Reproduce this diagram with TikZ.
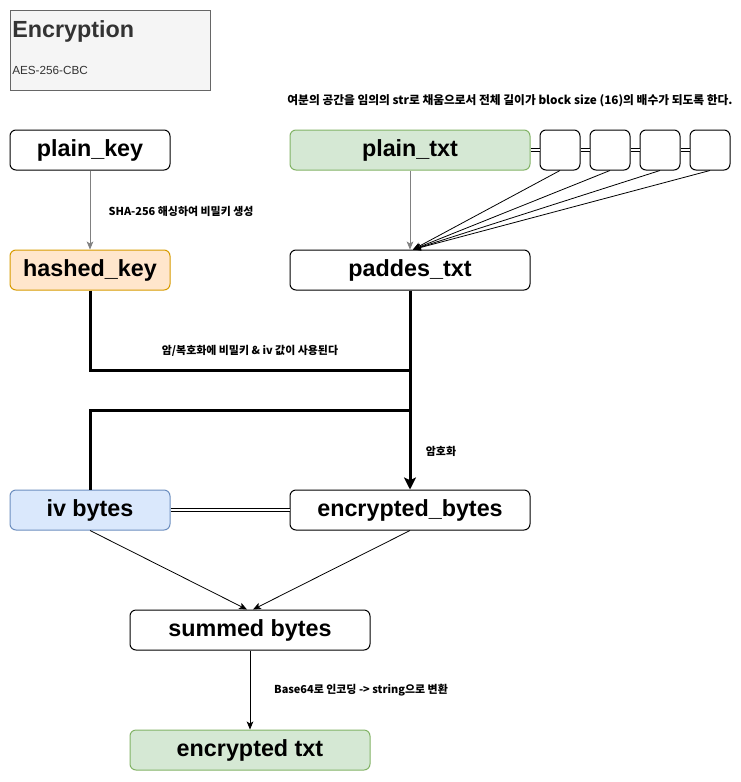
\documentclass[tikz,border=0pt]{standalone}
\usepackage{fontspec}
\setmainfont{Liberation Sans}
\newfontfamily\krfont{Noto Sans CJK KR}
\usetikzlibrary{arrows.meta}
\definecolor{titlefill}{HTML}{F5F5F5}
\definecolor{titledraw}{HTML}{666666}
\definecolor{titletext}{HTML}{333333}
\definecolor{greenfill}{HTML}{D5E8D4}
\definecolor{greendraw}{HTML}{82B366}
\definecolor{orangefill}{HTML}{FFE6CC}
\definecolor{orangedraw}{HTML}{D79B00}
\definecolor{bluefill}{HTML}{DAE8FC}
\definecolor{bluedraw}{HTML}{6C8EBF}
\definecolor{linegray}{HTML}{808080}

\begin{document}
\begin{tikzpicture}[x = 0.75pt, y = -0.75pt,
  box/.style = {rectangle, rounded corners = 4.5pt, line width = 0.75pt, draw = black, fill = white, inner sep = 0pt, minimum width = 120pt, minimum height = 30pt, font = \fontsize{17.5}{20}\selectfont\bfseries},
  widebox/.style = {box, minimum width = 180pt},
  padbox/.style = {box, minimum width = 30pt},
  note/.style = {inner sep = 0pt, font = \krfont\fontsize{8.2}{10}\selectfont\bfseries},
  thin/.style = {line width = 0.6pt, -{Stealth[length = 6pt, width = 5pt, inset = 1.5pt]}},
  grayline/.style = {thin, draw = linegray},
  thick/.style = {line width = 2.25pt},
  doubleline/.style = {double, line width = 0.6pt, double distance = 1.8pt}]

\useasboundingbox (0, 0) rectangle (741, 782);

\node[rectangle, line width = 0.75pt, draw = titledraw, fill = titlefill, minimum width = 150pt, minimum height = 60pt, inner sep = 0pt] (titlebox) at (110, 50) {};
\node[anchor = west, inner sep = 0pt, text = titletext, font = \fontsize{17.5}{20}\selectfont\bfseries] (titlename) at (12, 31) {Encryption};
\node[anchor = west, inner sep = 0pt, text = titletext, font = \fontsize{8.8}{10}\selectfont] (titlesub) at (12, 70) {AES-256-CBC};

\node[note, font = \krfont\fontsize{8.8}{10}\selectfont\bfseries] (padnote) at (510, 101) {여분의 공간을 임의의 str로 채움으로서 전체 길이가 block size (16)의 배수가 되도록 한다.};

\node[box] (plainkey) at (90, 150) {plain\_key};
\node[widebox, fill = greenfill, draw = greendraw] (plaintxt) at (410, 150) {plain\_txt};
\node[padbox] (pad1) at (560, 150) {};
\node[padbox] (pad2) at (610, 150) {};
\node[padbox] (pad3) at (660, 150) {};
\node[padbox] (pad4) at (710, 150) {};

\node[box, fill = orangefill, draw = orangedraw] (hashedkey) at (90, 270) {hashed\_key};
\node[widebox] (paddestxt) at (410, 270) {paddes\_txt};

\node[box, fill = bluefill, draw = bluedraw] (ivbytes) at (90, 510) {iv bytes};
\node[widebox] (encbytes) at (410, 510) {encrypted\_bytes};

\node[widebox] (summed) at (250, 630) {summed bytes};
\node[widebox, fill = greenfill, draw = greendraw] (enctxt) at (250, 750) {encrypted txt};

\coordinate (keyjoin) at (410, 370);
\coordinate (ivjoin) at (410, 410);

\draw[grayline] (plainkey) -- (hashedkey);
\node[note] (hashnote) at (181, 211) {SHA-256 해싱하여 비밀키 생성};

\draw[grayline] (plaintxt) -- (paddestxt);
\draw[doubleline] (plaintxt.east) -- (pad1.west);
\draw[doubleline] (pad1.east) -- (pad2.west);
\draw[doubleline] (pad2.east) -- (pad3.west);
\draw[doubleline] (pad3.east) -- (pad4.west);
\draw[thin] (pad1.south) -- ([xshift = 2.25pt]paddestxt.north);
\draw[thin] (pad2.south) -- ([xshift = 2.25pt]paddestxt.north);
\draw[thin] (pad3.south) -- ([xshift = 2.25pt]paddestxt.north);
\draw[thin] (pad4.south) -- ([xshift = 2.25pt]paddestxt.north);

\draw[thick] (hashedkey.south) |- (keyjoin);
\draw[thick] (ivbytes.north) |- (ivjoin);
\draw[thick, -{Stealth[length = 9pt, width = 9pt, inset = 2pt]}] (paddestxt.south) -- (encbytes.north);
\node[note] (keynote) at (250, 351) {암/복호화에 비밀키 \& iv 값이 사용된다};
\node[note] (encnote) at (441, 451) {암호화};

\draw[doubleline] (ivbytes.east) -- (encbytes.west);
\draw[thin] (ivbytes.south) -- ([xshift = -2.25pt]summed.north);
\draw[thin] (encbytes.south) -- ([xshift = 2.25pt]summed.north);

\draw[thin] (summed) -- (enctxt);
\node[note] (base64note) at (361, 690) {Base64로 인코딩 -> string으로 변환};

\end{tikzpicture}
\end{document}
